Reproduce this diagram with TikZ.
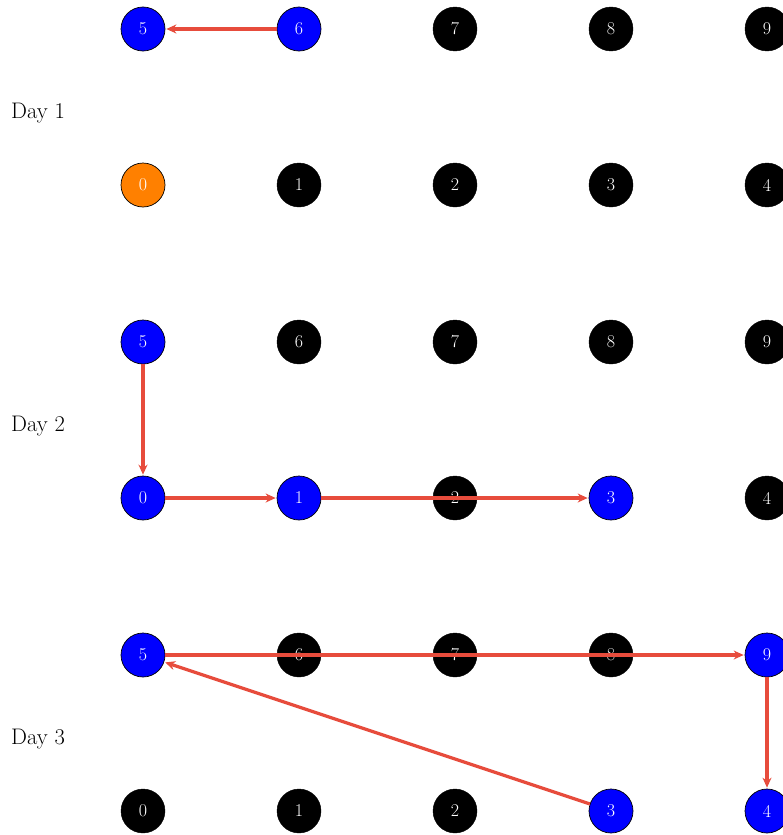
\documentclass[tikz,border=0pt]{standalone}
\usetikzlibrary{arrows.meta}
\definecolor{arrowred}{RGB}{231,76,60}
\definecolor{nodeorange}{RGB}{255,128,0}
\definecolor{nodeblue}{RGB}{0,0,255}
\tikzset{
  vtx/.style={circle, minimum size=44pt, inner sep=0pt, text=white,
    font=\fontsize{18}{21}\selectfont},
  blackv/.style={vtx, fill=black, draw=black},
  bluev/.style={vtx, fill=nodeblue, draw=black, line width=0.7pt},
  orangev/.style={vtx, fill=nodeorange, draw=black, line width=0.7pt},
  move/.style={draw=arrowred, line width=3.3pt, -{Stealth[length=10pt,width=9pt]}, shorten >=1pt},
  daylab/.style={anchor=base west, inner sep=0pt, font=\fontsize{22.5}{27}\selectfont}
}
\begin{document}
\begin{tikzpicture}[x=1pt,y=-1pt]
\useasboundingbox (0,0) rectangle (783,835);
\clip (0,0) rectangle (783,835);
% Day 1
\node[bluev] (a5) at (143,29) {5};
\node[bluev] (a6) at (299,29) {6};
\node[blackv] (a7) at (455,29) {7};
\node[blackv] (a8) at (611,29) {8};
\node[blackv] (a9) at (767,29) {9};
\node[orangev] (a0) at (143,185) {0};
\node[blackv] (a1) at (299,185) {1};
\node[blackv] (a2) at (455,185) {2};
\node[blackv] (a3) at (611,185) {3};
\node[blackv] (a4) at (767,185) {4};
\node[daylab] (d1) at (11,118) {Day 1};
% Day 2
\node[bluev] (b5) at (143,342) {5};
\node[blackv] (b6) at (299,342) {6};
\node[blackv] (b7) at (455,342) {7};
\node[blackv] (b8) at (611,342) {8};
\node[blackv] (b9) at (767,342) {9};
\node[bluev] (b0) at (143,498) {0};
\node[bluev] (b1) at (299,498) {1};
\node[blackv] (b2) at (455,498) {2};
\node[bluev] (b3) at (611,498) {3};
\node[blackv] (b4) at (767,498) {4};
\node[daylab] (d2) at (11,431) {Day 2};
% Day 3
\node[bluev] (c5) at (143,655) {5};
\node[blackv] (c6) at (299,655) {6};
\node[blackv] (c7) at (455,655) {7};
\node[blackv] (c8) at (611,655) {8};
\node[bluev] (c9) at (767,655) {9};
\node[blackv] (c0) at (143,811) {0};
\node[blackv] (c1) at (299,811) {1};
\node[blackv] (c2) at (455,811) {2};
\node[bluev] (c3) at (611,811) {3};
\node[bluev] (c4) at (767,811) {4};
\node[daylab] (d3) at (11,744) {Day 3};
% moves
\draw[move] (a6) -- (a5);
\draw[move] (b5) -- (b0);
\draw[move] (b0) -- (b1);
\draw[move] (b1) -- (b3);
\draw[move] (c5) -- (c9);
\draw[move] (c9) -- (c4);
\draw[move] (c3) -- (c5);
\end{tikzpicture}
\end{document}
